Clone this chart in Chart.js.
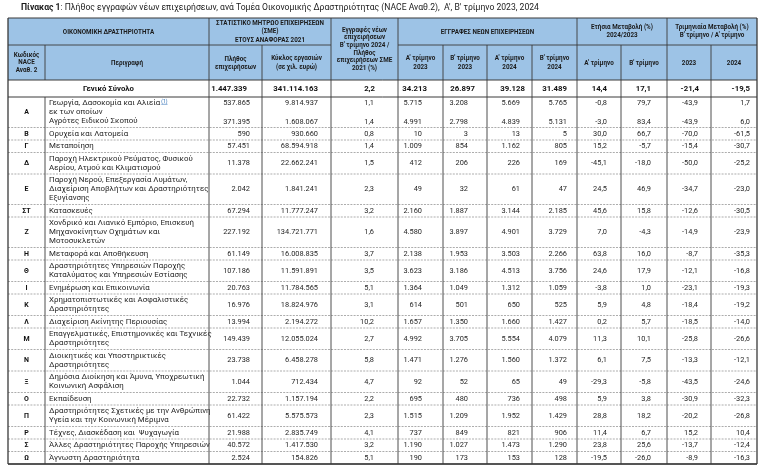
<!DOCTYPE html>
<html><head><meta charset="utf-8">
<script src="https://cdn.jsdelivr.net/npm/chart.js@4.4.1/dist/chart.umd.min.js"></script>
<style>html,body{margin:0;padding:0;background:#fff}#c{display:block}</style>
</head><body>
<canvas id="c" width="768" height="470"></canvas>
<script>
// ---------------- DATA ----------------
const titleBold = "Πίνακας 1";
const titleRest = ": Πλήθος εγγραφών νέων επιχειρήσεων, ανά Τομέα Οικονομικής Δραστηριότητας (NACE Αναθ.2),  Α', Β' τρίμηνο 2023, 2024";

// '' code = continuation of the previous category (sub-row)
const codes = ['Α','','Β','Γ','Δ','Ε','ΣΤ','Ζ','Η','Θ','Ι','Κ','Λ','Μ','Ν','Ξ','Ο','Π','Ρ','Σ','Ω'];
const descriptions = [
  ["Γεωργία, Δασοκομία και Αλιεία", "εκ των οποίων"],
  ["Αγρότες Ειδικού Σκοπού"],
  ["Ορυχεία και Λατομεία"],
  ["Μεταποίηση"],
  ["Παροχή Ηλεκτρικού Ρεύματος, Φυσικού", "Αερίου, Ατμού και Κλιματισμού"],
  ["Παροχή Νερού, Επεξεργασία Λυμάτων,", "Διαχείριση Αποβλήτων και Δραστηριότητες", "Εξυγίανσης"],
  ["Κατασκευές"],
  ["Χονδρικό και Λιανικό Εμπόριο, Επισκευή", "Μηχανοκίνητων Οχημάτων και", "Μοτοσυκλετών"],
  ["Μεταφορά και Αποθήκευση"],
  ["Δραστηριότητες Υπηρεσιών Παροχής", "Καταλύματος και Υπηρεσιών Εστίασης"],
  ["Ενημέρωση και Επικοινωνία"],
  ["Χρηματοπιστωτικές και Ασφαλιστικές", "Δραστηριότητες"],
  ["Διαχείριση Ακίνητης Περιουσίας"],
  ["Επαγγελματικές, Επιστημονικές και Τεχνικές", "Δραστηριότητες"],
  ["Διοικητικές και Υποστηρικτικές", "Δραστηριότητες"],
  ["Δημόσια Διοίκηση και Άμυνα, Υποχρεωτική", "Κοινωνική Ασφάλιση"],
  ["Εκπαίδευση"],
  ["Δραστηριότητες Σχετικές με την Ανθρώπινη", "Υγεία και την Κοινωνική Μέριμνα"],
  ["Τέχνες, Διασκέδαση και  Ψυχαγωγία"],
  ["Άλλες Δραστηριότητες Παροχής Υπηρεσιών"],
  ["Άγνωστη Δραστηριότητα"]
];
const totalLabel = "Γενικό Σύνολο";

const firms2021     = [537865,371395,590,57451,11378,2042,67294,227192,61149,107186,20763,16976,13994,149439,23738,1044,22732,61422,21988,40572,2524];
const turnover2021  = [9814937,1608067,930660,68594918,22662241,1841241,11777247,134721771,16008835,11591891,11784565,18824976,2194272,12055024,6458278,712434,1157194,5575573,2835749,1417530,154826];
const regShareQ2_24 = [1.1,1.4,0.8,1.4,1.5,2.3,3.2,1.6,3.7,3.5,5.1,3.1,10.2,2.7,5.8,4.7,2.2,2.3,4.1,3.2,5.1];
const regQ1_2023    = [5715,4991,10,1009,412,49,2160,4580,2138,3623,1364,614,1657,4992,1471,92,695,1515,737,1190,190];
const regQ2_2023    = [3208,2798,3,854,206,32,1887,3897,1953,3186,1049,501,1350,3705,1276,52,480,1209,849,1027,173];
const regQ1_2024    = [5669,4839,13,1162,226,61,3144,4901,3503,4513,1312,650,1660,5554,1560,65,736,1952,821,1473,153];
const regQ2_2024    = [5765,5131,5,805,169,47,2185,3729,2266,3756,1059,525,1427,4079,1372,49,498,1429,906,1290,128];
const annualQ1      = [-0.8,-3.0,30.0,15.2,-45.1,24.5,45.6,7.0,63.8,24.6,-3.8,5.9,0.2,11.3,6.1,-29.3,5.9,28.8,11.4,23.8,-19.5];
const annualQ2      = [79.7,83.4,66.7,-5.7,-18.0,46.9,15.8,-4.3,16.0,17.9,1.0,4.8,5.7,10.1,7.5,-5.8,3.8,18.2,6.7,25.6,-26.0];
const quarterly2023 = [-43.9,-43.9,-70.0,-15.4,-50.0,-34.7,-12.6,-14.9,-8.7,-12.1,-23.1,-18.4,-18.5,-25.8,-13.3,-43.5,-30.9,-20.2,15.2,-13.7,-8.9];
const quarterly2024 = [1.7,6.0,-61.5,-30.7,-25.2,-23.0,-30.5,-23.9,-35.3,-16.8,-19.3,-19.2,-14.0,-26.6,-12.1,-24.6,-32.3,-26.8,10.4,-12.4,-16.3];
const totals        = [1447339,341114163,2.2,34213,26897,39128,31489,14.4,17.1,-21.4,-19.5];

// ---------------- FORMAT ----------------
const fmtInt = v => String(Math.round(v)).replace(/\B(?=(\d{3})+(?!\d))/g, '.');
const fmtDec = v => (v < 0 ? '-' : '') + Math.abs(v).toFixed(1).replace('.', ',');

const series = [
  {data: firms2021, f: fmtInt}, {data: turnover2021, f: fmtInt}, {data: regShareQ2_24, f: fmtDec},
  {data: regQ1_2023, f: fmtInt}, {data: regQ2_2023, f: fmtInt}, {data: regQ1_2024, f: fmtInt}, {data: regQ2_2024, f: fmtInt},
  {data: annualQ1, f: fmtDec}, {data: annualQ2, f: fmtDec}, {data: quarterly2023, f: fmtDec}, {data: quarterly2024, f: fmtDec}
];

// ---------------- STYLE / LAYOUT ----------------
const FONT = 'Roboto';
const xEdges = [8,45,209,262,331,398,443,487,532,577,621,667,711,757];
const valRight = [250,318,374,422,468,520,567,607,651,698,750];
const totRight = [247,318,375,427,475,525,567,607,651,699,750];
const TOP = 18, H1 = 45, H2 = 80, TOT = 97, LINE = 9, PAD = 3.5;
const HEAD_BG = '#9dc3e6', GRID = '#3a3a3a', DASH = '#8a8a8a', TXT = '#262626';

const tablePlugin = {
  id: 'table',
  afterDraw(chart) {
    const {ctx, scales: {x, y}} = chart;
    const X = v => x.getPixelForValue(v), Y = v => y.getPixelForValue(v);
    const text = (s, px, py, align, font, color) => {
      ctx.font = font; ctx.textAlign = align; ctx.textBaseline = 'middle';
      ctx.fillStyle = color || TXT; ctx.fillText(s, X(px), Y(py));
    };
    const hline = (x0, x1, yy, w, col, dash) => {
      ctx.save(); ctx.beginPath(); ctx.lineWidth = w; ctx.strokeStyle = col; ctx.setLineDash(dash || []);
      ctx.moveTo(X(x0), Y(yy)); ctx.lineTo(X(x1), Y(yy)); ctx.stroke(); ctx.restore();
    };
    const vline = (xx, y0, y1, w, col) => {
      ctx.save(); ctx.beginPath(); ctx.lineWidth = w; ctx.strokeStyle = col;
      ctx.moveTo(X(xx), Y(y0)); ctx.lineTo(X(xx), Y(y1)); ctx.stroke(); ctx.restore();
    };
    ctx.save();
    // title
    ctx.font = `bold 8.6px ${FONT}`; ctx.textAlign = 'left'; ctx.textBaseline = 'middle'; ctx.fillStyle = '#1a1a1a';
    ctx.fillText(titleBold, X(21), Y(8));
    const wb = ctx.measureText(titleBold).width;
    ctx.font = `8.6px ${FONT}`; ctx.fillText(titleRest, X(21) + wb, Y(8));

    // row layout
    const rows = []; let cur = TOT;
    descriptions.forEach((d, i) => {
      const cont = codes[i] === '';
      const nextCont = codes[i + 1] === '';
      const h = d.length * LINE + (cont ? PAD / 2 : (nextCont ? PAD / 2 : PAD));
      const padTop = cont ? 0 : PAD / 2;
      rows.push({top: cur, h, padTop, cont, nextCont});
      cur += h;
    });
    const BOTTOM = cur;

    // header background
    ctx.fillStyle = HEAD_BG;
    ctx.fillRect(X(xEdges[0]), Y(TOP), X(xEdges[13]) - X(xEdges[0]), Y(H2) - Y(TOP));

    // header texts
    const hf = `bold 6.3px ${FONT}`, hc = '#1b1b1b';
    const cx = (a, b) => (xEdges[a] + xEdges[b]) / 2;
    text('ΟΙΚΟΝΟΜΙΚΗ ΔΡΑΣΤΗΡΙΟΤΗΤΑ', cx(0,2), 32, 'center', hf, hc);
    text('ΣΤΑΤΙΣΤΙΚΟ ΜΗΤΡΩΟ ΕΠΙΧΕΙΡΗΣΕΩΝ', cx(2,4), 23.5, 'center', hf, hc);
    text('(ΣΜΕ)', cx(2,4), 31.5, 'center', hf, hc);
    text('ΕΤΟΥΣ ΑΝΑΦΟΡΑΣ 2021', cx(2,4), 40, 'center', hf, hc);
    ['Εγγραφές νέων','επιχειρήσεων',"Β' τρίμηνο 2024 /",'Πλήθος','επιχειρήσεων ΣΜΕ','2021 (%)']
      .forEach((s, k) => text(s, cx(4,5), 30 + k * 7.7, 'center', hf, hc));
    text('ΕΓΓΡΑΦΕΣ ΝΕΩΝ ΕΠΙΧΕΙΡΗΣΕΩΝ', cx(5,9), 32, 'center', hf, hc);
    text('Ετήσια Μεταβολή (%)', cx(9,11), 27, 'center', hf, hc);
    text('2024/2023', cx(9,11), 35.5, 'center', hf, hc);
    text('Τριμηνιαία Μεταβολή (%)', cx(11,13), 27, 'center', hf, hc);
    text("Β' τρίμηνο / Α' τρίμηνο", cx(11,13), 35.5, 'center', hf, hc);
    ['Κωδικός','NACE','Αναθ. 2'].forEach((s, k) => text(s, cx(0,1), 55 + k * 7.8, 'center', hf, hc));
    text('Περιγραφή', cx(1,2), 63, 'center', hf, hc);
    text('Πλήθος', cx(2,3), 59, 'center', hf, hc);
    text('επιχειρήσεων', cx(2,3), 67, 'center', hf, hc);
    text('Κύκλος εργασιών', cx(3,4), 58.5, 'center', hf, hc);
    text('(σε χιλ. ευρώ)', cx(3,4), 67, 'center', hf, hc);
    [["Α' τρίμηνο",'2023'],["Β' τρίμηνο",'2023'],["Α' τρίμηνο",'2024'],["Β' τρίμηνο",'2024']].forEach((p, k) => {
      text(p[0], cx(5+k,6+k), 58.5, 'center', hf, hc);
      text(p[1], cx(5+k,6+k), 67, 'center', hf, hc);
    });
    text("Α' τρίμηνο", cx(9,10), 63, 'center', hf, hc);
    text("Β' τρίμηνο", cx(10,11), 63, 'center', hf, hc);
    text('2023', cx(11,12), 63, 'center', hf, hc);
    text('2024', cx(12,13), 63, 'center', hf, hc);

    // total row
    const totY = (H2 + TOT) / 2 + 0.5;
    text(totalLabel, cx(0,2), totY, 'center', `bold 7.8px ${FONT}`, '#111');
    totals.forEach((v, k) => text(series[k].f(v), totRight[k], totY, 'right', `bold 7.8px ${FONT}`, '#111'));

    // body rows
    const df = `7.9px ${FONT}`, nf = `7.4px ${FONT}`, cf = `bold 7px ${FONT}`;
    rows.forEach((r, i) => {
      const d = descriptions[i];
      const lineY = k => r.top + r.padTop + LINE * (k + 0.5);
      d.forEach((s, k) => text(s, 49, lineY(k), 'left', df));
      if (i === 0) {
        ctx.font = df; const w = ctx.measureText(d[0]).width;
        ctx.font = `5px ${FONT}`; ctx.fillStyle = '#2e6fb5'; ctx.textAlign = 'left'; ctx.textBaseline = 'middle';
        ctx.fillText('(1)', X(49) + w + 1, Y(lineY(0) - 2));
        const w2 = ctx.measureText('(1)').width;
        ctx.fillRect(X(49) + w + 1, Y(lineY(0) + 0.6), w2, 0.6);
      }
      const vy = (r.nextCont) ? lineY(0) : r.top + r.h / 2;
      series.forEach((s, k) => text(s.f(s.data[i]), valRight[k], vy, 'right', nf));
      if (codes[i] !== '') {
        let h = r.h; if (r.nextCont) h += rows[i + 1].h;
        text(codes[i], cx(0,1), r.top + h / 2, 'center', cf, '#111');
      }
      if (!r.nextCont && i < rows.length - 1) hline(xEdges[0], xEdges[13], r.top + r.h, 0.7, DASH, [2, 1.2]);
    });

    // grid lines
    hline(xEdges[0], xEdges[13], TOP, 1.2, GRID);
    hline(xEdges[0], xEdges[4], H1, 0.9, GRID);
    hline(xEdges[5], xEdges[13], H1, 0.9, GRID);
    hline(xEdges[0], xEdges[13], H2, 1, GRID);
    hline(xEdges[0], xEdges[13], TOT, 1, GRID);
    hline(xEdges[0], xEdges[13], BOTTOM, 2, '#555');
    // verticals
    const row1 = [0,2,4,5,9,11,13];
    xEdges.forEach((xx, k) => {
      const outer = (k === 0 || k === 13);
      const w = outer ? 1.3 : 0.9;
      if (row1.includes(k)) vline(xx, TOP, H1, w, GRID);
      vline(xx, H1, H2, w, GRID);
      if (k !== 1) vline(xx, H2, TOT, w, GRID);
      vline(xx, TOT, BOTTOM, w, GRID);
    });
    ctx.restore();
  }
};

new Chart(document.getElementById('c').getContext('2d'), {
  type: 'scatter',
  data: { datasets: [{ label: 'table', data: [], pointRadius: 0 }] },
  options: {
    responsive: false, animation: false, events: [],
    layout: { padding: 0 },
    plugins: { legend: { display: false }, tooltip: { enabled: false }, title: { display: false } },
    scales: {
      x: { type: 'linear', min: 0, max: 768, display: false },
      y: { type: 'linear', min: 0, max: 470, reverse: true, display: false }
    }
  },
  plugins: [tablePlugin]
});
</script>
</body></html>
